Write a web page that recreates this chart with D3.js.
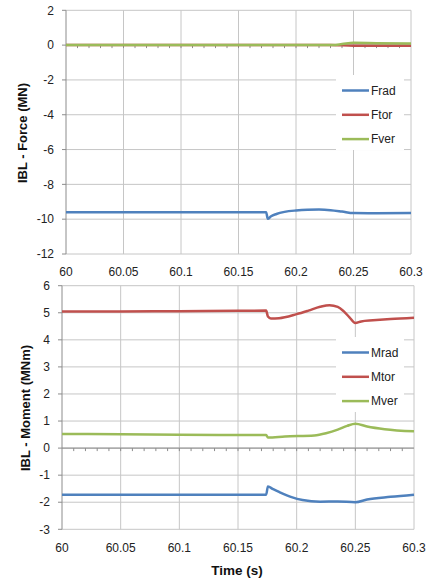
<!DOCTYPE html>
<html>
<head>
<meta charset="utf-8">
<script src="https://cdn.jsdelivr.net/npm/d3@7"></script>
<style>
  body { margin: 0; background: #fff; }
  svg { font-family: "Liberation Sans", Arial, sans-serif; }
</style>
</head>
<body>
<script>
// x ticks shared by both panels
const timeTicks = [60, 60.05, 60.1, 60.15, 60.2, 60.25, 60.3];
const timeLabels = ['60', '60.05', '60.1', '60.15', '60.2', '60.25', '60.3'];

// force panel (MN)
const forceTicks = [2, 0, -2, -4, -6, -8, -10, -12];
const fradT = [60, 60.1, 60.174, 60.1755, 60.178, 60.183, 60.19, 60.2, 60.21, 60.22, 60.23, 60.24, 60.25, 60.27, 60.3];
const fradV = [-9.6, -9.6, -9.6, -9.98, -9.85, -9.7, -9.58, -9.5, -9.46, -9.45, -9.48, -9.56, -9.65, -9.66, -9.65];
const ftorT = [60, 60.1, 60.2, 60.23, 60.25, 60.27, 60.3];
const ftorV = [0, 0, 0, 0, -0.03, -0.03, -0.03];
const fverT = [60, 60.1, 60.2, 60.232, 60.24, 60.25, 60.27, 60.3];
const fverV = [0, 0, 0, 0.01, 0.06, 0.13, 0.11, 0.09];

// moment panel (MNm)
const momentTicks = [6, 5, 4, 3, 2, 1, 0, -1, -2, -3];
const mradT = [60, 60.1, 60.174, 60.1755, 60.18, 60.185, 60.195, 60.205, 60.22, 60.235, 60.25, 60.26, 60.28, 60.3];
const mradV = [-1.72, -1.72, -1.72, -1.42, -1.52, -1.62, -1.8, -1.92, -1.98, -1.97, -2.0, -1.9, -1.8, -1.72];
const mtorT = [60, 60.05, 60.1, 60.15, 60.174, 60.1755, 60.178, 60.185, 60.2, 60.21, 60.22, 60.228, 60.235, 60.24, 60.245, 60.25, 60.255, 60.265, 60.28, 60.3];
const mtorV = [5.05, 5.05, 5.06, 5.07, 5.08, 4.86, 4.79, 4.8, 4.95, 5.08, 5.22, 5.28, 5.22, 5.06, 4.83, 4.62, 4.68, 4.72, 4.77, 4.82];
const mverT = [60, 60.05, 60.1, 60.15, 60.174, 60.1755, 60.19, 60.215, 60.225, 60.235, 60.243, 60.25, 60.26, 60.275, 60.3];
const mverV = [0.52, 0.51, 0.49, 0.48, 0.48, 0.39, 0.43, 0.47, 0.55, 0.68, 0.82, 0.9, 0.8, 0.7, 0.62];

const blue = '#4f81bd', red = '#c0504d', green = '#9bbb59';

const svg = d3.select('body').append('svg')
    .attr('width', 429)
    .attr('height', 580);

function drawPanel(cfg) {
    const x = d3.scaleLinear().domain([60, 60.3]).range([cfg.left, cfg.right]);
    const y = d3.scaleLinear().domain(cfg.yDomain).range([cfg.bottom, cfg.top]);
    const g = svg.append('g');

    // horizontal gridlines
    g.selectAll('line.hg').data(cfg.yTicks).enter().append('line')
        .attr('x1', cfg.left).attr('x2', cfg.right)
        .attr('y1', d => y(d)).attr('y2', d => y(d))
        .attr('stroke', '#c6c6c6').attr('stroke-width', 1);

    // vertical gridlines
    g.selectAll('line.vg').data(timeTicks.slice(1)).enter().append('line')
        .attr('x1', d => x(d)).attr('x2', d => x(d))
        .attr('y1', cfg.top).attr('y2', cfg.bottom)
        .attr('stroke', '#c6c6c6').attr('stroke-width', 1);

    // left axis with major ticks
    g.append('line')
        .attr('x1', cfg.left).attr('x2', cfg.left)
        .attr('y1', cfg.top).attr('y2', cfg.bottom)
        .attr('stroke', '#8c8c8c');
    g.selectAll('line.yt').data(cfg.yTicks).enter().append('line')
        .attr('x1', cfg.left - 4).attr('x2', cfg.left)
        .attr('y1', d => y(d)).attr('y2', d => y(d))
        .attr('stroke', '#8c8c8c');
    g.selectAll('text.yl').data(cfg.yTicks).enter().append('text')
        .attr('x', cfg.left - 12).attr('y', d => y(d))
        .attr('dy', '0.35em')
        .attr('text-anchor', 'end')
        .attr('font-size', 12).attr('fill', '#222')
        .text(d => d);

    // x axis on the zero line, minor ticks every 0.01
    g.append('line')
        .attr('x1', cfg.left).attr('x2', cfg.right)
        .attr('y1', y(0)).attr('y2', y(0))
        .attr('stroke', '#8c8c8c');
    g.selectAll('line.mt').data(d3.range(1, 30)).enter().append('line')
        .attr('x1', d => x(60 + d * 0.01)).attr('x2', d => x(60 + d * 0.01))
        .attr('y1', y(0)).attr('y2', y(0) + 3)
        .attr('stroke', '#8c8c8c');

    // x tick labels at the bottom
    g.selectAll('text.xl').data(timeTicks).enter().append('text')
        .attr('x', d => x(d)).attr('y', cfg.bottom + 18)
        .attr('dy', '0.35em')
        .attr('text-anchor', 'middle')
        .attr('font-size', 12).attr('fill', '#222')
        .text((d, i) => timeLabels[i]);

    // y title
    g.append('text')
        .attr('transform', `translate(${cfg.titleX},${cfg.titleY}) rotate(-90)`)
        .attr('text-anchor', 'middle')
        .attr('dy', '0.35em')
        .attr('font-size', 13).attr('font-weight', 'bold').attr('fill', '#111')
        .text(cfg.title);

    // legend box
    g.append('rect')
        .attr('x', 336).attr('y', cfg.legendTop)
        .attr('width', 68).attr('height', 75)
        .attr('fill', '#fff');

    const line = d3.line()
        .x(d => x(d[0]))
        .y(d => y(d[1]))
        .curve(d3.curveMonotoneX);

    cfg.series.forEach((s, i) => {
        const pts = s.t.map((t, j) => [t, s.v[j]]);
        g.append('path')
            .datum(pts)
            .attr('d', line)
            .attr('fill', 'none')
            .attr('stroke', s.color)
            .attr('stroke-width', 2.5);

        const ly = cfg.legendTop + 15.5 + i * 24.3;
        g.append('line')
            .attr('x1', 342).attr('x2', 369)
            .attr('y1', ly).attr('y2', ly)
            .attr('stroke', s.color).attr('stroke-width', 2.5);
        g.append('text')
            .attr('x', 371).attr('y', ly)
            .attr('dy', '0.35em')
            .attr('font-size', 12).attr('fill', '#222')
            .text(s.name);
    });
}

drawPanel({
    left: 66, right: 411, top: 10.3, bottom: 254,
    yDomain: [-12, 2], yTicks: forceTicks,
    title: 'IBL - Force (MN)', titleX: 22, titleY: 133,
    legendTop: 75,
    series: [
        { name: 'Frad', t: fradT, v: fradV, color: blue },
        { name: 'Ftor', t: ftorT, v: ftorV, color: red },
        { name: 'Fver', t: fverT, v: fverV, color: green }
    ]
});

drawPanel({
    left: 62, right: 414, top: 285.7, bottom: 529.3,
    yDomain: [-3, 6], yTicks: momentTicks,
    title: 'IBL - Moment (MNm)', titleX: 25, titleY: 408,
    legendTop: 337,
    series: [
        { name: 'Mrad', t: mradT, v: mradV, color: blue },
        { name: 'Mtor', t: mtorT, v: mtorV, color: red },
        { name: 'Mver', t: mverT, v: mverV, color: green }
    ]
});

svg.append('text')
    .attr('x', 237).attr('y', 570)
    .attr('dy', '0.35em')
    .attr('text-anchor', 'middle')
    .attr('font-size', 13.5).attr('font-weight', 'bold').attr('fill', '#111')
    .text('Time (s)');
</script>
</body>
</html>
